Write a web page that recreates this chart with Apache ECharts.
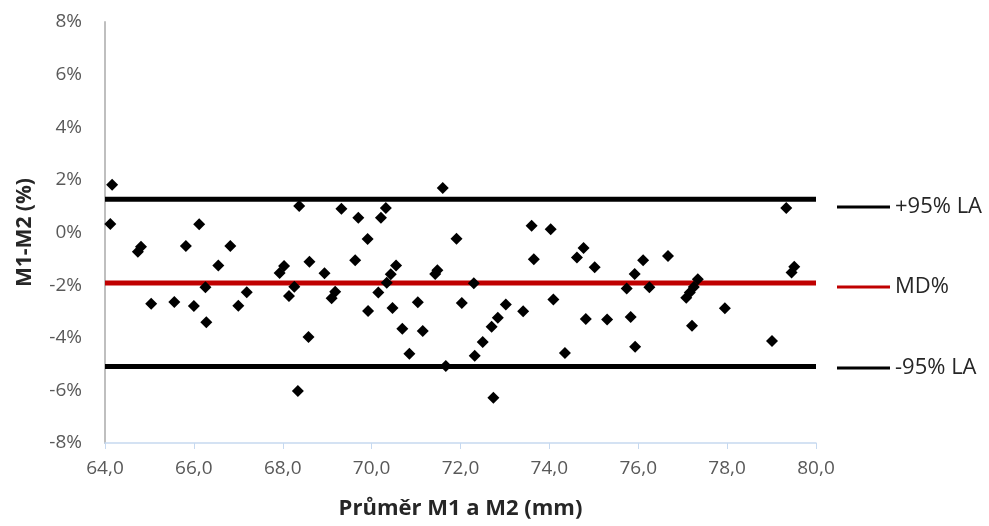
<!DOCTYPE html>
<html>
<head>
<meta charset="utf-8">
<script src="https://cdn.jsdelivr.net/npm/echarts@6/dist/echarts.min.js"></script>
<style>
  html, body { margin: 0; padding: 0; background: #fff; }
  #chart { width: 989px; height: 526px; }
</style>
</head>
<body>
<div id="chart"></div>
<script>
// průměr M1 a M2 (mm)
var meanX = [
  64.16, 64.12, 64.81, 64.74, 66.12, 65.82, 66.82, 66.55, 67.93, 66.26,
  67.19, 65.04, 65.56, 66.00, 67.00, 66.28, 71.60, 68.37, 69.32, 69.70,
  70.32, 70.21, 69.91, 68.03, 68.60, 68.94, 69.63, 70.55, 70.43, 71.48,
  71.43, 68.26, 68.14, 69.18, 69.10, 70.34, 70.15, 69.92, 70.47, 71.04,
  70.69, 71.15, 68.58, 70.85, 71.67, 68.34, 71.91, 73.60, 74.03, 73.65,
  74.77, 74.62, 75.02, 72.30, 72.03, 73.02, 73.41, 74.09, 72.84, 72.70,
  72.50, 72.32, 74.82, 75.30, 74.35, 72.74, 79.33, 79.51, 79.45, 76.11,
  76.67, 75.92, 75.74, 76.25, 77.34, 77.25, 77.16, 77.08, 75.83, 75.93,
  77.21, 77.95, 79.01
];
// rozdíl M1-M2 (%)
var diffPct = [
  1.81, 0.32, -0.54, -0.73, 0.31, -0.51, -0.51, -1.25, -1.54, -2.08,
  -2.27, -2.71, -2.64, -2.79, -2.78, -3.41, 1.69, 1.01, 0.90, 0.56,
  0.93, 0.56, -0.25, -1.27, -1.11, -1.55, -1.05, -1.25, -1.59, -1.43,
  -1.58, -2.06, -2.41, -2.25, -2.50, -1.91, -2.28, -2.98, -2.87, -2.65,
  -3.66, -3.74, -3.97, -4.61, -5.07, -6.02, -0.24, 0.26, 0.12, -1.02,
  -0.59, -0.95, -1.32, -1.93, -2.68, -2.74, -2.99, -2.55, -3.24, -3.58,
  -4.16, -4.68, -3.29, -3.31, -4.58, -6.28, 0.93, -1.30, -1.52, -1.05,
  -0.89, -1.58, -2.13, -2.08, -1.78, -2.07, -2.28, -2.48, -3.21, -4.34,
  -3.54, -2.88, -4.12
];
// meze shody a průměrný rozdíl
var lineNames = ['+95% LA', 'MD%', '-95% LA'];
var lineValues = [1.26, -1.92, -5.09];
var lineColors = ['#000000', '#c00000', '#000000'];
var xRange = [64, 80];
var yRange = [-8, 8];

var font = '"Open Sans", "Noto Sans", sans-serif';

var points = meanX.map(function (x, i) { return [x, diffPct[i]]; });

var series = lineNames.map(function (name, i) {
  return {
    name: name,
    type: 'line',
    data: [[xRange[0], lineValues[i]], [xRange[1], lineValues[i]]],
    symbol: 'none',
    z: 1,
    lineStyle: { color: lineColors[i], width: 5 },
    itemStyle: { color: lineColors[i] }
  };
});
series.push({
  name: 'data',
  type: 'scatter',
  data: points,
  symbol: 'diamond',
  symbolSize: [12, 12],
  z: 3,
  itemStyle: { color: '#000', opacity: 1 }
});

var legendCenters = [207, 287, 368];
var legends = lineNames.map(function (name, i) {
  return {
    data: [name],
    left: 837,
    top: legendCenters[i] - 12,
    padding: 0,
    icon: 'rect',
    itemWidth: 53,
    itemHeight: 3,
    itemGap: 0,
    selectedMode: false,
    textStyle: { fontFamily: font, fontSize: 22, lineHeight: 24, color: '#262626', padding: [0, 0, 0, 0] }
  };
});

var option = {
  animation: false,
  backgroundColor: '#fff',
  grid: { left: 105, right: 173, top: 22, bottom: 83 },
  legend: legends,
  xAxis: {
    type: 'value',
    min: xRange[0],
    max: xRange[1],
    interval: 2,
    name: 'Průměr M1 a M2 (mm)',
    nameLocation: 'middle',
    nameGap: 55,
    nameTextStyle: { fontFamily: font, fontSize: 22, fontWeight: 'bold', color: '#262626' },
    axisLine: { onZero: false, lineStyle: { color: '#c6d9f0', width: 1.5 } },
    axisTick: { show: true, length: 6, lineStyle: { color: '#c6d9f0' } },
    splitLine: { show: false },
    axisLabel: {
      margin: 16,
      fontFamily: font,
      fontSize: 19,
      color: '#595959',
      formatter: function (v) { return v.toFixed(1).replace('.', ','); }
    }
  },
  yAxis: {
    type: 'value',
    min: yRange[0],
    max: yRange[1],
    interval: 2,
    name: 'M1-M2 (%)',
    nameLocation: 'middle',
    nameRotate: 90,
    nameGap: 69,
    nameTextStyle: { fontFamily: font, fontSize: 21, fontWeight: 'bold', color: '#262626' },
    axisLine: { show: true, onZero: false, lineStyle: { color: '#bfbfbf', width: 2 } },
    axisTick: { show: false },
    splitLine: { show: false },
    axisLabel: {
      margin: 23,
      fontFamily: font,
      fontSize: 19,
      color: '#595959',
      formatter: function (v) { return v + '%'; }
    }
  },
  series: series
};

var myChart = echarts.init(document.getElementById('chart'));
myChart.setOption(option);
</script>
</body>
</html>
